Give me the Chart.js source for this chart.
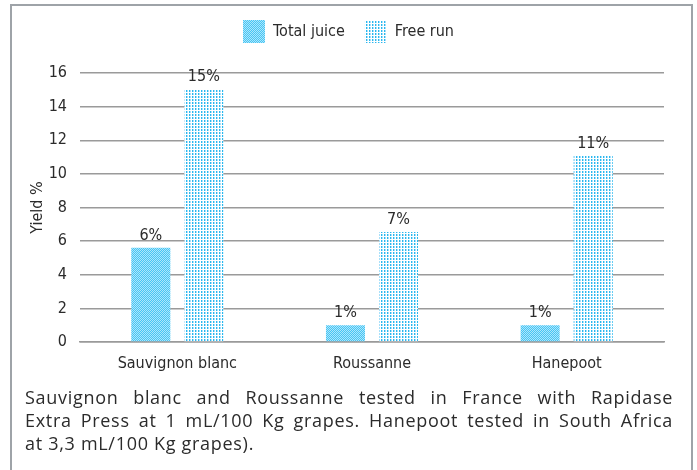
<!DOCTYPE html>
<html><head><meta charset="utf-8">
<script src="https://cdn.jsdelivr.net/npm/chart.js@4/dist/chart.umd.min.js"></script>
<style>
html,body{margin:0;padding:0;background:#fff;width:697px;height:470px;overflow:hidden;}
#frame{position:absolute;left:10px;top:4px;width:679px;height:480px;border:2px solid #9ea3a8;border-bottom:none;}
#wrap{position:absolute;left:0;top:0;width:697px;height:390px;}
#note{position:absolute;left:25px;top:386px;width:648px;font-family:'Open Sans','Lato',sans-serif;font-size:18px;letter-spacing:0.7px;line-height:23px;color:#2b2b2b;}
#note div.j{text-align:justify;text-align-last:justify;}
</style></head>
<body>
<div id="frame"></div>
<div id="wrap"><canvas id="c" width="697" height="390"></canvas></div>
<div id="note">
<div class="j">Sauvignon blanc and Roussanne tested in France with Rapidase</div>
<div class="j">Extra Press at 1 mL/100 Kg grapes. Hanepoot tested in South Africa</div>
<div>at 3,3 mL/100 Kg grapes).</div>
</div>
<script>
const categories = ['Sauvignon blanc', 'Roussanne', 'Hanepoot'];
const seriesNames = ['Total juice', 'Free run'];
const totalJuice = [5.6, 1.0, 1.0];
const freeRun = [15.05, 6.55, 11.1];
const totalJuiceLabels = ['6%', '1%', '1%'];
const freeRunLabels = ['15%', '7%', '11%'];
const yTicks = [0, 2, 4, 6, 8, 10, 12, 14, 16];

const FAM = "'DejaVu Sans', sans-serif";
const F = (size) => ({family: FAM, size: size, weight: 'condensed'});

function makePattern(kind){
  const t = document.createElement('canvas');
  const x = t.getContext('2d');
  if(kind==='hatch'){
    t.width=4; t.height=4;
    x.fillStyle='#aee6fb'; x.fillRect(0,0,4,4);
    x.fillStyle='#46c5f4';
    for(let i=0;i<4;i++){ x.fillRect(i,(3-i)%4,1,1); x.fillRect(i,(5-i)%4,1,1); }
  } else {
    t.width=3; t.height=3;
    x.fillStyle='#ffffff'; x.fillRect(0,0,3,3);
    x.fillStyle='#2ab8ee'; x.fillRect(0,0,1,2);
    x.fillStyle='#a8e0fa'; x.fillRect(1,0,1,2);
  }
  return document.getElementById('c').getContext('2d').createPattern(t,'repeat');
}
const pHatch = makePattern('hatch');
const pDots = makePattern('dots');

const valueLabels = {
  id:'valueLabels',
  afterInit(chart){
    const lg = chart.legend;
    if(lg && !lg._patched){
      const orig = lg.fit;
      lg.fit = function(){ orig.call(this); this.height += 20; };
      lg._patched = true;
    }
  },
  afterDatasetsDraw(chart){
    const ctx = chart.ctx;
    const lbls = [totalJuiceLabels, freeRunLabels];
    ctx.save();
    ctx.font = "condensed 16px " + FAM;
    ctx.fillStyle = '#2b2b2b';
    ctx.textAlign = 'center';
    ctx.textBaseline = 'bottom';
    chart.data.datasets.forEach((ds, di) => {
      chart.getDatasetMeta(di).data.forEach((bar, i) => {
        ctx.fillText(lbls[di][i], bar.x, bar.y - 4);
      });
    });
    ctx.restore();
  }
};

new Chart(document.getElementById('c'), {
  type:'bar',
  data:{
    labels: categories,
    datasets:[
      {label: seriesNames[0], data: totalJuice, backgroundColor: pHatch, borderWidth:0, categoryPercentage:0.545, barPercentage:0.736},
      {label: seriesNames[1], data: freeRun, backgroundColor: pDots, borderWidth:0, categoryPercentage:0.545, barPercentage:0.736}
    ]
  },
  options:{
    responsive:false,
    animation:false,
    devicePixelRatio:1,
    layout:{padding:{top:0, right:0, left:0, bottom:0}},
    plugins:{
      legend:{
        display:true,
        position:'top',
        labels:{
          boxWidth:22, boxHeight:23, padding:20,
          color:'#2b2b2b',
          font:F(16)
        }
      },
      tooltip:{enabled:false}
    },
    scales:{
      x:{
        grid:{display:false, drawTicks:false},
        border:{display:true, color:'#9a9a9a', width:1.5},
        ticks:{color:'#2b2b2b', font:F(16), padding:12, maxRotation:0},
        afterFit(s){ s.height = 48; }
      },
      y:{
        min:0, max:16,
        afterBuildTicks(s){ s.ticks = yTicks.map(v=>({value:v})); },
        grid:{color:'#9a9a9a', lineWidth:1.5, drawTicks:false},
        border:{display:false},
        ticks:{color:'#2b2b2b', font:F(16), padding:13},
        title:{display:true, text:'Yield %', color:'#2b2b2b', font:F(16), padding:{top:28, bottom:0}},
        afterFit(s){ s.width = 80; }
      },
      yRight:{
        position:'right',
        display:true,
        min:0, max:16,
        grid:{display:false, drawTicks:false},
        border:{display:false},
        ticks:{display:false},
        afterFit(s){ s.width = 33; }
      }
    }
  },
  plugins:[valueLabels]
});
</script>
</body></html>
